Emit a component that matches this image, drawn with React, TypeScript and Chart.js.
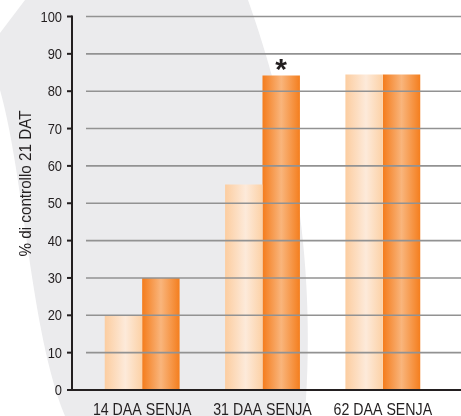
import React, { useEffect, useRef } from 'react';
import { Chart, registerables } from 'chart.js';

Chart.register(...registerables);

const categories = ['14 DAA SENJA', '31 DAA SENJA', '62 DAA SENJA'];
const seriesLight = [20, 55, 84.5];
const seriesOrange = [30, 84.2, 84.5];
const orangeMarks = ['', '*', ''];
const yTickValues = [0, 10, 20, 30, 40, 50, 60, 70, 80, 90, 100];
const yTitle = '% di controllo 21 DAT';

const SANS = "'Liberation Sans', Arial, Helvetica, sans-serif";
const TEXT = '#231f20';
const CAT_PCT = 0.622;

const lightStops: [number, string][] = [[0, '#fccda0'], [0.55, '#fdeada'], [1, '#fcd1a6']];
const orangeStops: [number, string][] = [[0, '#f47c1c'], [0.5, '#f9b57c'], [1, '#f47e1e']];

function gradientFor(ctx: any, stops: [number, string][]) {
  const chart = ctx.chart;
  if (!chart.chartArea || ctx.type !== 'data') return stops[0][1];
  const xs = chart.scales.x;
  const center = xs.getPixelForValue(ctx.dataIndex);
  const catW = xs.width / categories.length;
  const groupW = catW * CAT_PCT;
  const barW = groupW / 2;
  const left = center - groupW / 2 + ctx.datasetIndex * barW;
  const g = chart.ctx.createLinearGradient(left, 0, left + barW, 0);
  stops.forEach(([o, c]) => g.addColorStop(o, c));
  return g;
}

function condensedText(c: CanvasRenderingContext2D, text: string, x: number, y: number, sx: number, align: CanvasTextAlign) {
  c.save();
  c.translate(x, y);
  c.scale(sx, 1);
  c.textAlign = align;
  c.fillText(text, 0, 0);
  c.restore();
}

const decorPlugin = {
  id: 'decor',
  beforeDraw(chart: any) {
    const c = chart.ctx;
    const w = chart.width;
    const h = chart.height;
    c.save();
    c.fillStyle = '#ffffff';
    c.fillRect(0, 0, w, h);
    c.fillStyle = '#ebebed';
    c.beginPath();
    c.moveTo(25, 0);
    c.lineTo(248, 0);
    c.bezierCurveTo(287, 110, 318, 250, 305, h);
    c.lineTo(65, h);
    c.bezierCurveTo(30, 330, 25, 180, 0, 90);
    c.lineTo(0, 33);
    c.closePath();
    c.fill();
    c.restore();
  },
  afterDatasetsDraw(chart: any) {
    const c = chart.ctx;
    const ys = chart.scales.y;
    const xs = chart.scales.x;
    const area = chart.chartArea;
    const axisX = area.left - 10;
    const w = chart.width;
    c.save();
    // grid lines (over bars)
    c.strokeStyle = '#929292';
    c.lineWidth = 1.6;
    yTickValues.forEach((v) => {
      if (v === 0) return;
      const y = ys.getPixelForValue(v);
      c.beginPath();
      c.moveTo(axisX + 14, y);
      c.lineTo(w, y);
      c.stroke();
    });
    // axes
    c.strokeStyle = '#231f20';
    c.lineWidth = 2;
    const y0 = ys.getPixelForValue(0);
    const yTop = ys.getPixelForValue(100);
    c.beginPath();
    c.moveTo(axisX, yTop - 1);
    c.lineTo(axisX, y0 + 1);
    c.stroke();
    c.beginPath();
    c.moveTo(axisX - 1, y0);
    c.lineTo(w, y0);
    c.stroke();
    yTickValues.forEach((v) => {
      const y = ys.getPixelForValue(v);
      c.beginPath();
      c.moveTo(axisX - 5, y);
      c.lineTo(axisX, y);
      c.stroke();
    });
    // y tick labels
    c.fillStyle = TEXT;
    c.font = `15px ${SANS}`;
    c.textBaseline = 'middle';
    yTickValues.forEach((v) => {
      const y = ys.getPixelForValue(v);
      condensedText(c, String(v), axisX - 10, y + 1, 0.86, 'right');
    });
    // x labels
    c.font = `16.5px ${SANS}`;
    c.textBaseline = 'alphabetic';
    categories.forEach((lab, i) => {
      const x = xs.getPixelForValue(i);
      condensedText(c, lab, x, 415, 0.86, 'center');
    });
    // y title
    c.font = `16px ${SANS}`;
    c.textAlign = 'center';
    c.textBaseline = 'alphabetic';
    c.translate(31, 183.5);
    c.rotate(-Math.PI / 2);
    c.scale(0.95, 1);
    c.fillText(yTitle, 0, 0);
    c.restore();
    // marks above orange bars
    const meta = chart.getDatasetMeta(1);
    c.save();
    c.fillStyle = TEXT;
    c.font = `bold 30px ${SANS}`;
    c.textAlign = 'center';
    c.textBaseline = 'alphabetic';
    orangeMarks.forEach((m, i) => {
      if (!m) return;
      const el = meta.data[i];
      const tm = c.measureText(m);
      const cy = el.y - 10.5;
      const by = cy + (tm.actualBoundingBoxAscent - tm.actualBoundingBoxDescent) / 2;
      c.fillText(m, el.x, by);
    });
    c.restore();
  },
};

export default function App() {
  const ref = useRef<HTMLCanvasElement>(null);
  useEffect(() => {
    if (!ref.current) return;
    const chart = new Chart(ref.current, {
      type: 'bar',
      data: {
        labels: categories,
        datasets: [
          {
            label: 'A',
            data: seriesLight,
            backgroundColor: (ctx: any) => gradientFor(ctx, lightStops),
            borderWidth: 0,
            barPercentage: 1,
            categoryPercentage: CAT_PCT,
          },
          {
            label: 'B',
            data: seriesOrange,
            backgroundColor: (ctx: any) => gradientFor(ctx, orangeStops),
            borderWidth: 0,
            barPercentage: 1,
            categoryPercentage: CAT_PCT,
          },
        ],
      },
      options: {
        animation: false,
        responsive: false,
        maintainAspectRatio: false,
        devicePixelRatio: 1,
        layout: { padding: { left: 0, right: 18, top: 16.5, bottom: 0 } },
        plugins: { legend: { display: false }, tooltip: { enabled: false } },
        scales: {
          x: {
            grid: { display: false, drawTicks: false },
            border: { display: false },
            ticks: { display: false },
            afterFit: (s: any) => { s.height = 26; },
          },
          y: {
            min: 0,
            max: 100,
            grid: { display: false, drawTicks: false },
            border: { display: false },
            ticks: { display: false, stepSize: 10 },
            afterFit: (s: any) => { s.width = 82; },
          },
        },
      },
      plugins: [decorPlugin],
    });
    return () => chart.destroy();
  }, []);
  return (
    <div style={{ position: 'fixed', left: 0, top: 0, width: 461, height: 416 }}>
      <canvas ref={ref} width={461} height={416} style={{ display: 'block', width: 461, height: 416 }} />
    </div>
  );
}
